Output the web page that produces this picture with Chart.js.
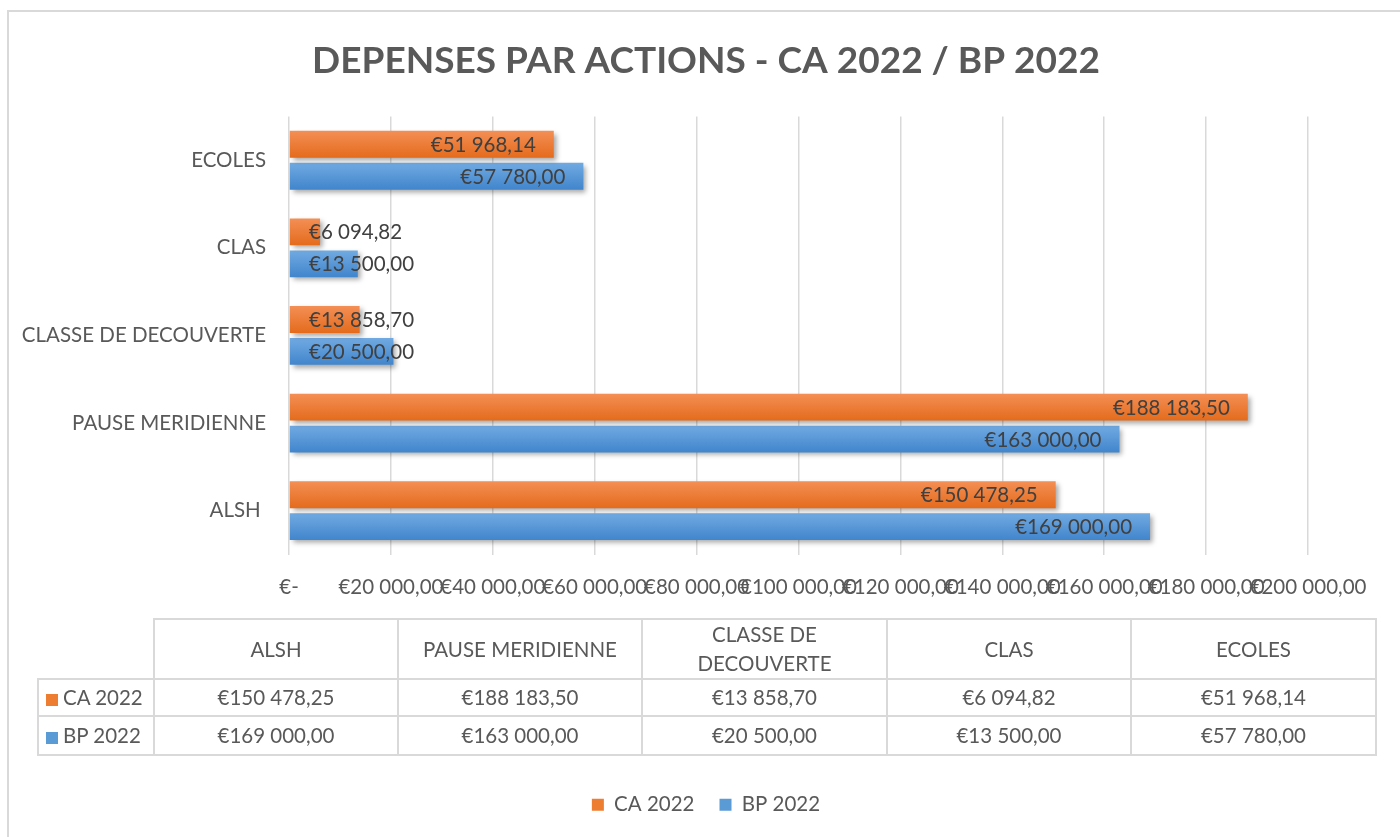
<!DOCTYPE html>
<html>
<head>
<meta charset="utf-8">
<script src="https://cdn.jsdelivr.net/npm/chart.js@4.4.1/dist/chart.umd.min.js"></script>
<style>
  body { margin: 0; background: #fff; width: 1400px; height: 837px; overflow: hidden; position: relative; font-family: Lato, sans-serif; }
  #frame { position: absolute; left: 7px; top: 10px; width: 1460px; height: 900px; border: 2px solid #d9d9d9; box-sizing: border-box; }
  #wrap { position: absolute; left: 0; top: 0; width: 1400px; height: 837px; }
  #dataTable { position: absolute; left: 37px; top: 618px; border-collapse: collapse; table-layout: fixed; color: #595959; font-size: 20.5px; }
  #dataTable td { border: 2px solid #d9d9d9; text-align: center; padding: 0; line-height: 29px; }
  #dataTable td.corner { border-top: none; border-left: none; }
  #dataTable td.rowHead { text-align: left; padding-left: 7px; white-space: nowrap; }
  .swatch { display: inline-block; width: 12px; height: 12px; margin-right: 5px; vertical-align: -1px; }
</style>
</head>
<body>
<div id="frame"></div>
<div id="wrap"><canvas id="chart" width="1400" height="837"></canvas></div>
<table id="dataTable"></table>

<script>
// categories as in the data table (Excel draws the first one at the bottom)
const categories = ['ALSH ', 'PAUSE MERIDIENNE', 'CLASSE DE DECOUVERTE', 'CLAS', 'ECOLES'];
const ca2022 = [150478.25, 188183.50, 13858.70, 6094.82, 51968.14];
const bp2022 = [169000.00, 163000.00, 20500.00, 13500.00, 57780.00];
const xTickLabels = ['€-', '€20 000,00', '€40 000,00', '€60 000,00', '€80 000,00', '€100 000,00',
  '€120 000,00', '€140 000,00', '€160 000,00', '€180 000,00', '€200 000,00'];

const ORANGE = '#ed7d31';
const BLUE = '#5b9bd5';
const TEXT = '#595959';
const FONT_SIZE = 20.5;

// €150 478,25 style
const euro = (v) => {
  const [int, dec] = v.toFixed(2).split('.');
  return '€' + int.replace(/\B(?=(\d{3})+(?!\d))/g, ' ') + ',' + dec;
};

// vertical gradient per bar, lighter on top
const barFill = (top, bottom, solid) => (ctx) => {
  const bar = ctx.chart.getDatasetMeta(ctx.datasetIndex).data[ctx.dataIndex];
  if (!bar || bar.y == null || !bar.height) return solid;
  const g = ctx.chart.ctx.createLinearGradient(0, bar.y - bar.height / 2, 0, bar.y + bar.height / 2);
  g.addColorStop(0, top);
  g.addColorStop(1, bottom);
  return g;
};

// bar shadow + value labels at the inside end of each bar
const valueLabels = {
  id: 'valueLabels',
  beforeDatasetsDraw(chart) {
    const c = chart.ctx;
    c.save();
    c.shadowColor = 'rgba(0,0,0,0.35)';
    c.shadowBlur = 5;
    c.shadowOffsetX = 3;
    c.shadowOffsetY = 3;
  },
  afterDatasetsDraw(chart) {
    const c = chart.ctx;
    c.restore();
    c.save();
    c.font = FONT_SIZE + 'px Lato';
    c.fillStyle = '#404040';
    c.textAlign = 'right';
    c.textBaseline = 'middle';
    const x0 = chart.scales.x.getPixelForValue(0);
    chart.data.datasets.forEach((ds, di) => {
      chart.getDatasetMeta(di).data.forEach((bar, i) => {
        const txt = euro(ds.data[i]);
        const w = c.measureText(txt).width;
        c.fillText(txt, Math.max(bar.x - 18, x0 + 20 + w), bar.y + 1);
      });
    });
    c.restore();
  }
};

const chartLabels = categories.slice().reverse();

const chart = new Chart(document.getElementById('chart'), {
  type: 'bar',
  data: {
    labels: chartLabels,
    datasets: [
      {
        label: 'CA 2022',
        data: ca2022.slice().reverse(),
        backgroundColor: barFill('#f48f55', '#e46b1c', ORANGE),
        legendColor: ORANGE,
        categoryPercentage: 0.73,
        barPercentage: 0.84
      },
      {
        label: 'BP 2022',
        data: bp2022.slice().reverse(),
        backgroundColor: barFill('#71aae2', '#4185cc', BLUE),
        legendColor: BLUE,
        categoryPercentage: 0.73,
        barPercentage: 0.84
      }
    ]
  },
  options: {
    indexAxis: 'y',
    responsive: false,
    animation: false,
    events: [],
    layout: { padding: { left: 12, right: 0, top: 0, bottom: 12 } },
    scales: {
      x: {
        min: 0,
        max: 200000,
        grid: { color: '#d9d9d9', lineWidth: 1.5, drawTicks: false },
        border: { display: false },
        ticks: {
          stepSize: 20000,
          autoSkip: false,
          maxRotation: 0,
          padding: 21,
          color: TEXT,
          font: { family: 'Lato', size: FONT_SIZE },
          callback: (v, i) => xTickLabels[i]
        },
        afterFit: (s) => { s.height = 215; }
      },
      y: {
        grid: { display: false },
        border: { display: false },
        ticks: { color: TEXT, font: { family: 'Lato', size: FONT_SIZE }, padding: 15 },
        afterFit: (s) => { s.width = 277; }
      },
      yRight: {
        type: 'category',
        position: 'right',
        grid: { display: false },
        border: { display: false },
        ticks: { display: false },
        afterFit: (s) => { s.width = 92; }
      }
    },
    plugins: {
      title: {
        display: true,
        text: 'DEPENSES PAR ACTIONS - CA 2022 / BP 2022',
        color: TEXT,
        font: { family: 'Lato', size: 37, weight: 'bold' },
        padding: { top: 39, bottom: 33 }
      },
      legend: {
        position: 'bottom',
        labels: {
          color: TEXT,
          font: { family: 'Lato', size: FONT_SIZE },
          boxWidth: 12,
          boxHeight: 12,
          padding: 25,
          generateLabels: (ch) => ch.data.datasets.map((ds, i) => ({
            text: ds.label, fillStyle: ds.legendColor, strokeStyle: ds.legendColor,
            lineWidth: 0, hidden: false, datasetIndex: i, fontColor: TEXT
          }))
        }
      },
      tooltip: { enabled: false }
    }
  },
  plugins: [valueLabels]
});
chart.update();

// data table under the chart
const table = document.getElementById('dataTable');
const colgroup = document.createElement('colgroup');
[116, 244, 244, 245, 244, 245].forEach((w) => {
  const col = document.createElement('col');
  col.style.width = w + 'px';
  colgroup.appendChild(col);
});
table.appendChild(colgroup);

const head = table.insertRow();
head.style.height = '60px';
head.insertCell().className = 'corner';
const headNames = { 'CLASSE DE DECOUVERTE': 'CLASSE DE<br>DECOUVERTE' };
categories.forEach((c) => { head.insertCell().innerHTML = headNames[c] || c.trim(); });

[['CA 2022', ORANGE, ca2022, 37], ['BP 2022', BLUE, bp2022, 39]].forEach(([name, color, values, h]) => {
  const row = table.insertRow();
  row.style.height = h + 'px';
  const th = row.insertCell();
  th.className = 'rowHead';
  th.innerHTML = '<span class="swatch" style="background:' + color + '"></span>' + name;
  values.forEach((v) => { row.insertCell().textContent = euro(v); });
});
</script>
</body>
</html>
